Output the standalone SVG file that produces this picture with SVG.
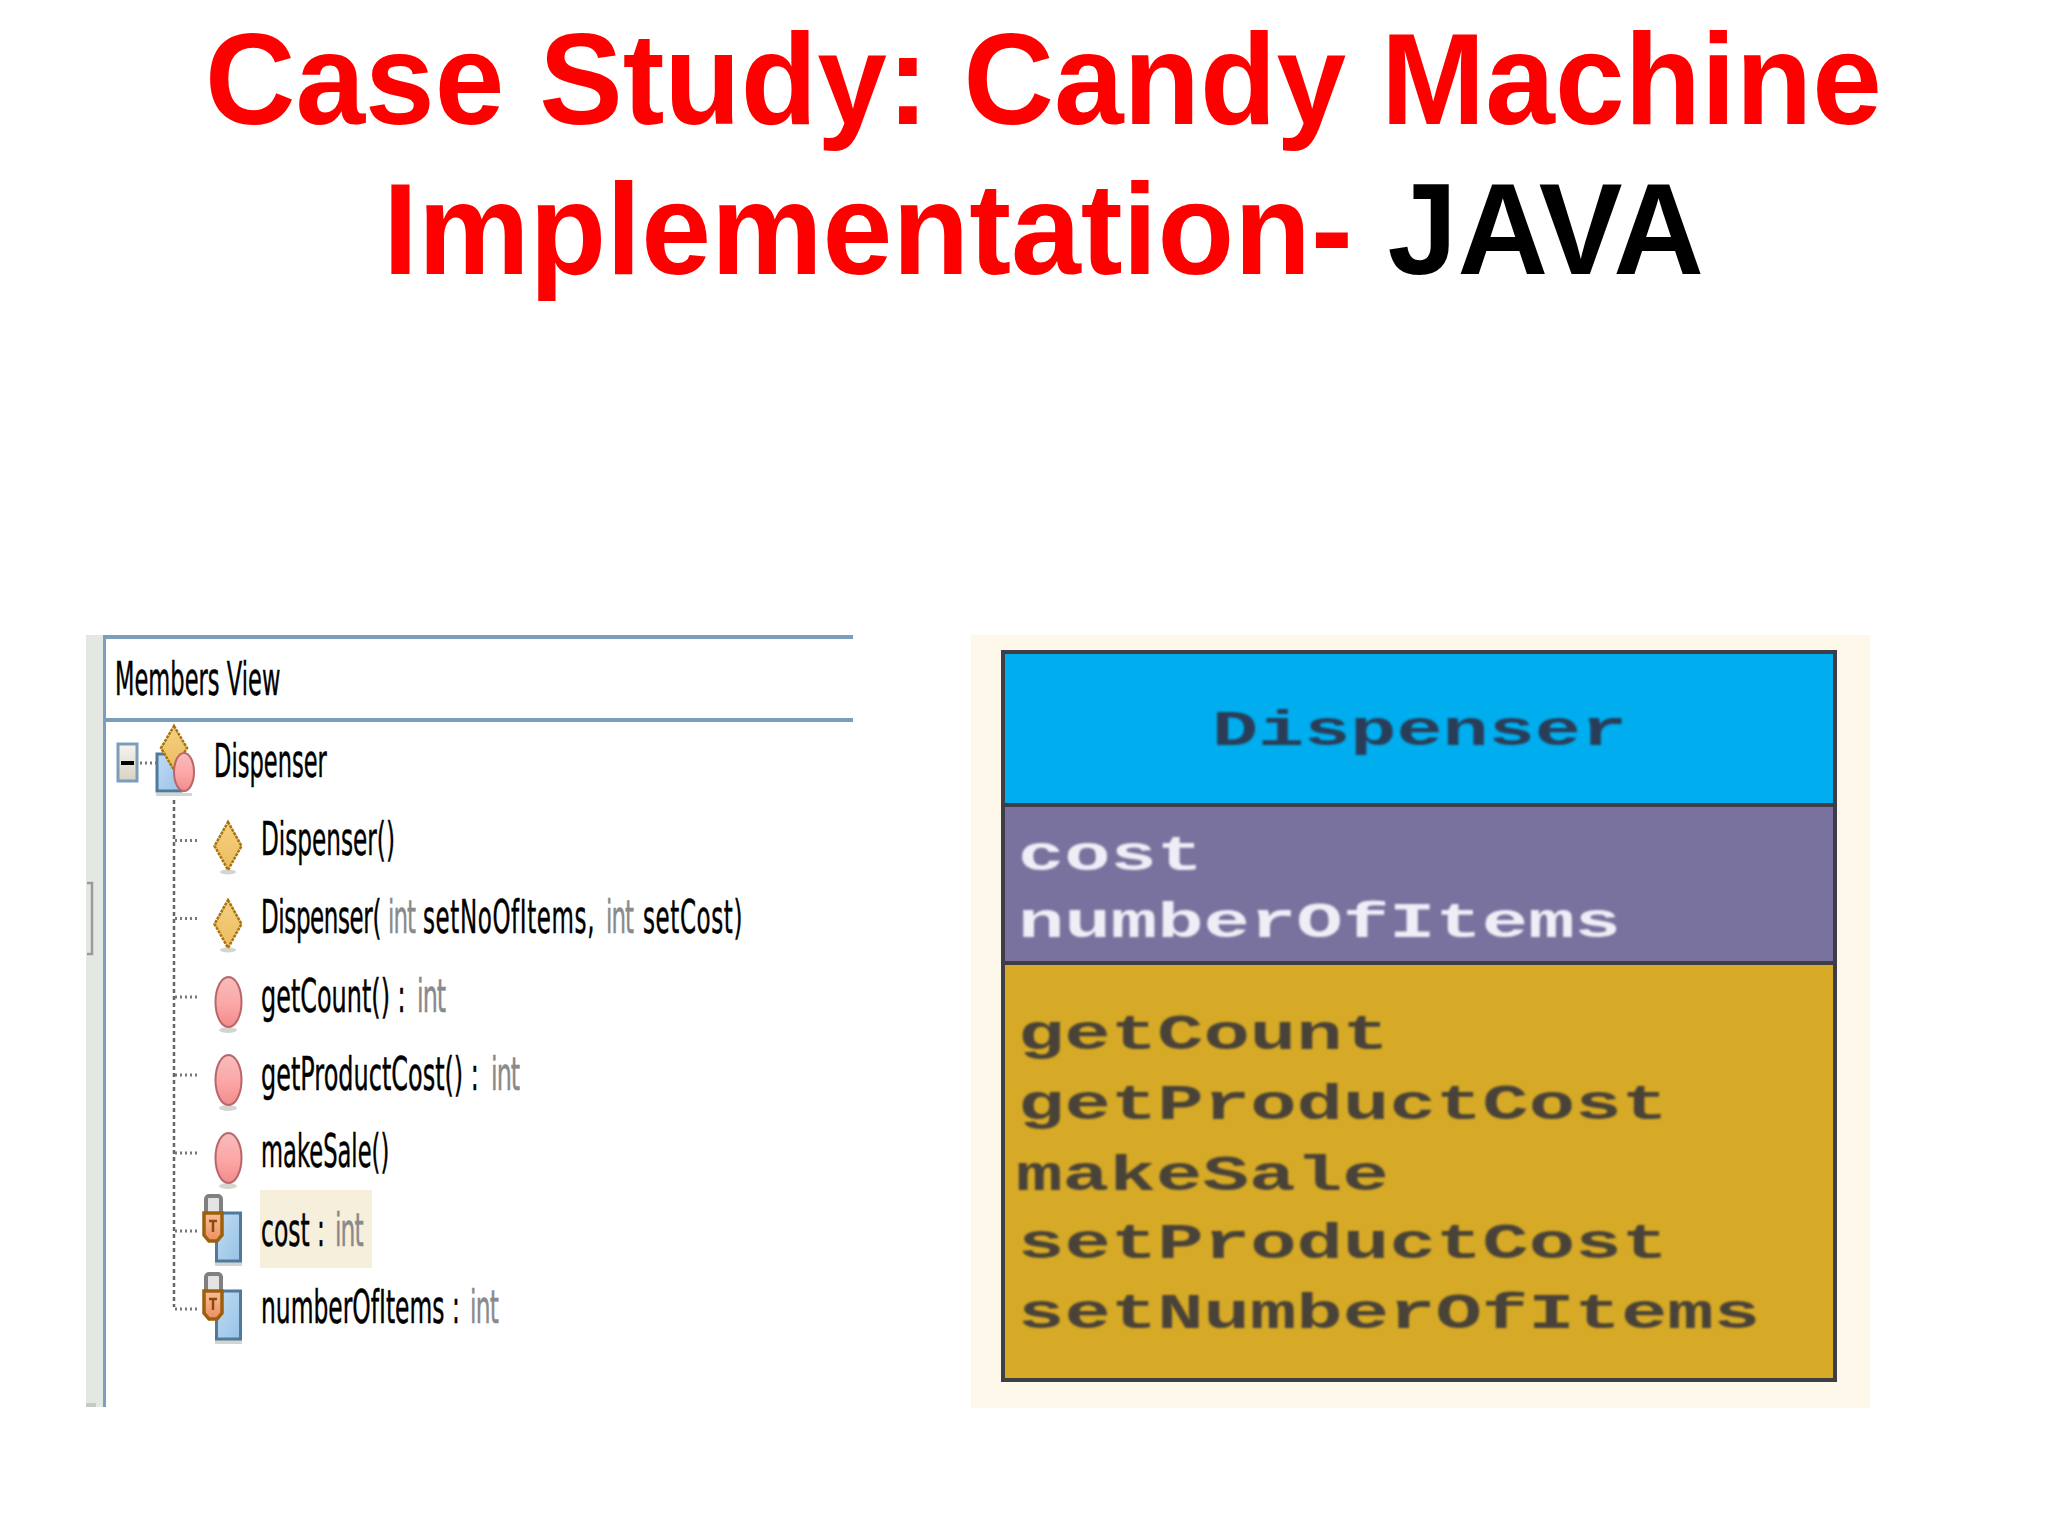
<svg xmlns="http://www.w3.org/2000/svg" width="2048" height="1536" viewBox="0 0 2048 1536">
<style>
.title{font:700 130px "Liberation Sans",Arial,sans-serif;fill:#ff0000}
.m{font:400 46px "DejaVu Sans","Liberation Sans",sans-serif;fill:#000;stroke:#000;stroke-width:.5}
.i{fill:#8a8a8a;stroke:#8a8a8a}
.u{font:700 50px "Liberation Mono","Courier New",monospace;fill:#4a4338}
.w{fill:#eeeef6}
.b{fill:#2c3d58}
.dot{stroke:#666;stroke-width:2.5;stroke-dasharray:4 3;fill:none}
.dot2{stroke:#777;stroke-width:3;stroke-dasharray:2 3;fill:none}
.dia{fill:url(#gd);stroke:#a8740c;stroke-width:2.5;stroke-dasharray:3 1}
.ell{fill:url(#ge);stroke:#b9656a;stroke-width:2}
.sq{fill:url(#gs);stroke:#4f7a9c;stroke-width:3}
.sh{fill:#d5d5d0}
.lk{fill:url(#gl);stroke:#9c600c;stroke-width:3.5}
.sk{fill:#e4e4e4;stroke:#808080;stroke-width:4}
</style>
<defs>
<linearGradient id="gd" x1="0" y1="0" x2="0" y2="1"><stop offset="0" stop-color="#f5d080"/><stop offset="1" stop-color="#ecbc60"/></linearGradient>
<linearGradient id="ge" x1="0" y1="0" x2="0" y2="1"><stop offset="0" stop-color="#f8bcbc"/><stop offset=".55" stop-color="#fca6a6"/><stop offset="1" stop-color="#f08c8c"/></linearGradient>
<linearGradient id="gs" x1="0" y1="0" x2="1" y2="1"><stop offset="0" stop-color="#c0dcf4"/><stop offset="1" stop-color="#98c2e6"/></linearGradient>
<linearGradient id="gl" x1="0" y1="0" x2="0" y2="1"><stop offset="0" stop-color="#f9bc98"/><stop offset="1" stop-color="#ec8f62"/></linearGradient>
<linearGradient id="gx" x1="0" y1="0" x2="0" y2="1"><stop offset="0" stop-color="#f6f6f0"/><stop offset="1" stop-color="#d8d2c0"/></linearGradient>
<filter id="soft" x="-5%" y="-20%" width="110%" height="140%"><feGaussianBlur stdDeviation="0.9"/></filter>
<g id="diamond"><ellipse cx="228" cy="872" rx="8" ry="2.500" class="sh"/><path d="M228 822 L241.500 846 L228 870 L214.500 846Z" class="dia"/></g>
<g id="oval"><ellipse cx="228" cy="874" rx="9" ry="3" class="sh"/><ellipse cx="228.500" cy="846" rx="13" ry="25" class="ell"/></g>
<g id="field"><rect x="215" y="1262" width="27" height="4" class="sh"/><rect x="216.500" y="1213" width="24" height="48" class="sq"/><rect x="206" y="1196" width="15" height="20" rx="3" class="sk"/><path d="M204 1213 H222 V1235 L217 1241 H209 L204 1235Z" class="lk"/><path d="M209 1221 H217 M213 1221 V1232" stroke="#8a4a08" stroke-width="2.500" fill="none"/></g>
</defs>
<rect width="2048" height="1536" fill="#fff"/>
<g id="title">
<text class="title" x="205" y="124" textLength="1677" lengthAdjust="spacingAndGlyphs">Case Study: Candy Machine</text>
<text class="title" transform="translate(383 274) scale(.966 1)">Implementation- <tspan fill="#000">JAVA</tspan></text>
</g>
<g id="members-panel">
<rect x="86" y="635" width="18" height="772" fill="#e4e8e2"/>
<rect x="103" y="635" width="3" height="772" fill="#7d9dbd"/>
<rect x="103" y="635" width="750" height="4" fill="#7d9dbd"/>
<rect x="103" y="718" width="750" height="4" fill="#7d9dbd"/>
<path d="M87 883 H92 V954 H87" fill="none" stroke="#9a9a9a" stroke-width="2.500"/>
<rect x="86" y="1403" width="10" height="4" fill="#c8c8c8"/>
<text class="m" transform="translate(115 695) scale(.491 1)">Members View</text>
</g>
<g id="connectors">
<path class="dot" d="M174 800 V1307"/>
<path class="dot2" d="M175 840.500 H198 M175 918.500 H198 M175 997 H198 M175 1075 H198 M175 1153 H198 M175 1231 H198 M175 1309 H198 M140 763 H156"/>
</g>
<g id="node-dispenser-root">
<rect x="118" y="744" width="19" height="37" fill="url(#gx)" stroke="#7d9dbd" stroke-width="3"/>
<rect x="121" y="761" width="13" height="4" fill="#000"/>
<rect x="157" y="754" width="24" height="37" class="sq"/>
<rect x="156" y="793" width="36" height="3" class="sh"/>
<path d="M174 726 L187 748 L174 770 L161 748Z" class="dia"/>
<ellipse cx="184" cy="772" rx="10" ry="19" class="ell"/>
<text class="m" transform="translate(214 777) scale(.491 1)">Dispenser</text>
</g>
<g id="node-ctor1"><use href="#diamond"/>
<text class="m" transform="translate(261 855) scale(.504 1)">Dispenser()</text></g>
<g id="node-ctor2"><use href="#diamond" y="78"/>
<text class="m" transform="translate(261 933) scale(.5 1)"><tspan x="0" letter-spacing="-.8">Dispenser(</tspan><tspan class="i" x="254" letter-spacing="-2">int</tspan> <tspan x="324" letter-spacing="1.2">setNoOfItems,</tspan> <tspan class="i" x="690" letter-spacing="-2">int</tspan> <tspan x="764" letter-spacing="1.2">setCost)</tspan></text></g>
<g id="node-getCount"><use href="#oval" y="156"/>
<text class="m" transform="translate(261 1012) scale(.52 1)"><tspan x="0">getCount() :</tspan> <tspan class="i" x="300" letter-spacing="-1.9">int</tspan></text></g>
<g id="node-getProductCost"><use href="#oval" y="234"/>
<text class="m" transform="translate(261 1090) scale(.521 1)"><tspan x="0">getProductCost() :</tspan> <tspan class="i" x="441.500" letter-spacing="-2">int</tspan></text></g>
<g id="node-makeSale"><use href="#oval" y="312"/>
<text class="m" transform="translate(261 1167) scale(.492 1)">makeSale()</text></g>
<g id="node-cost"><use href="#field"/>
<rect x="260" y="1190" width="112" height="78" fill="#f5efdc"/>
<text class="m" transform="translate(261 1246) scale(.51 1)"><tspan x="0">cost :</tspan> <tspan class="i" x="145" letter-spacing="-1.7">int</tspan></text></g>
<g id="node-numberOfItems"><use href="#field" y="78"/>
<text class="m" transform="translate(261 1323) scale(.509 1)"><tspan x="0">numberOfItems :</tspan> <tspan class="i" x="410.600" letter-spacing="-1.500">int</tspan></text></g>
<g id="uml-class">
<rect x="971" y="635" width="899" height="773" fill="#fef8eb"/>
<rect x="1004" y="652" width="831" height="153" fill="#00aeef"/>
<rect x="1004" y="805" width="831" height="158" fill="#7a729e"/>
<rect x="1004" y="963" width="831" height="416" fill="#d6aa26"/>
<g fill="none" stroke="#3f3d45" stroke-width="4"><rect x="1003" y="652" width="832" height="728"/><path d="M1003 805 H1835 M1003 963 H1835"/></g>
<g filter="url(#soft)">
<text class="u b" x="1212" y="745" textLength="415" lengthAdjust="spacingAndGlyphs">Dispenser</text>
<text class="u w" x="1018" y="870" textLength="185" lengthAdjust="spacingAndGlyphs">cost</text>
<text class="u w" x="1018" y="937" textLength="603" lengthAdjust="spacingAndGlyphs">numberOfItems</text>
<text class="u" x="1018" y="1049" textLength="371" lengthAdjust="spacingAndGlyphs">getCount</text>
<text class="u" x="1018" y="1119" textLength="650" lengthAdjust="spacingAndGlyphs">getProductCost</text>
<text class="u" x="1016" y="1190" textLength="373" lengthAdjust="spacingAndGlyphs">makeSale</text>
<text class="u" x="1018" y="1258" textLength="650" lengthAdjust="spacingAndGlyphs">setProductCost</text>
<text class="u" x="1018" y="1328" textLength="742" lengthAdjust="spacingAndGlyphs">setNumberOfItems</text>
</g>
</g>
</svg>
